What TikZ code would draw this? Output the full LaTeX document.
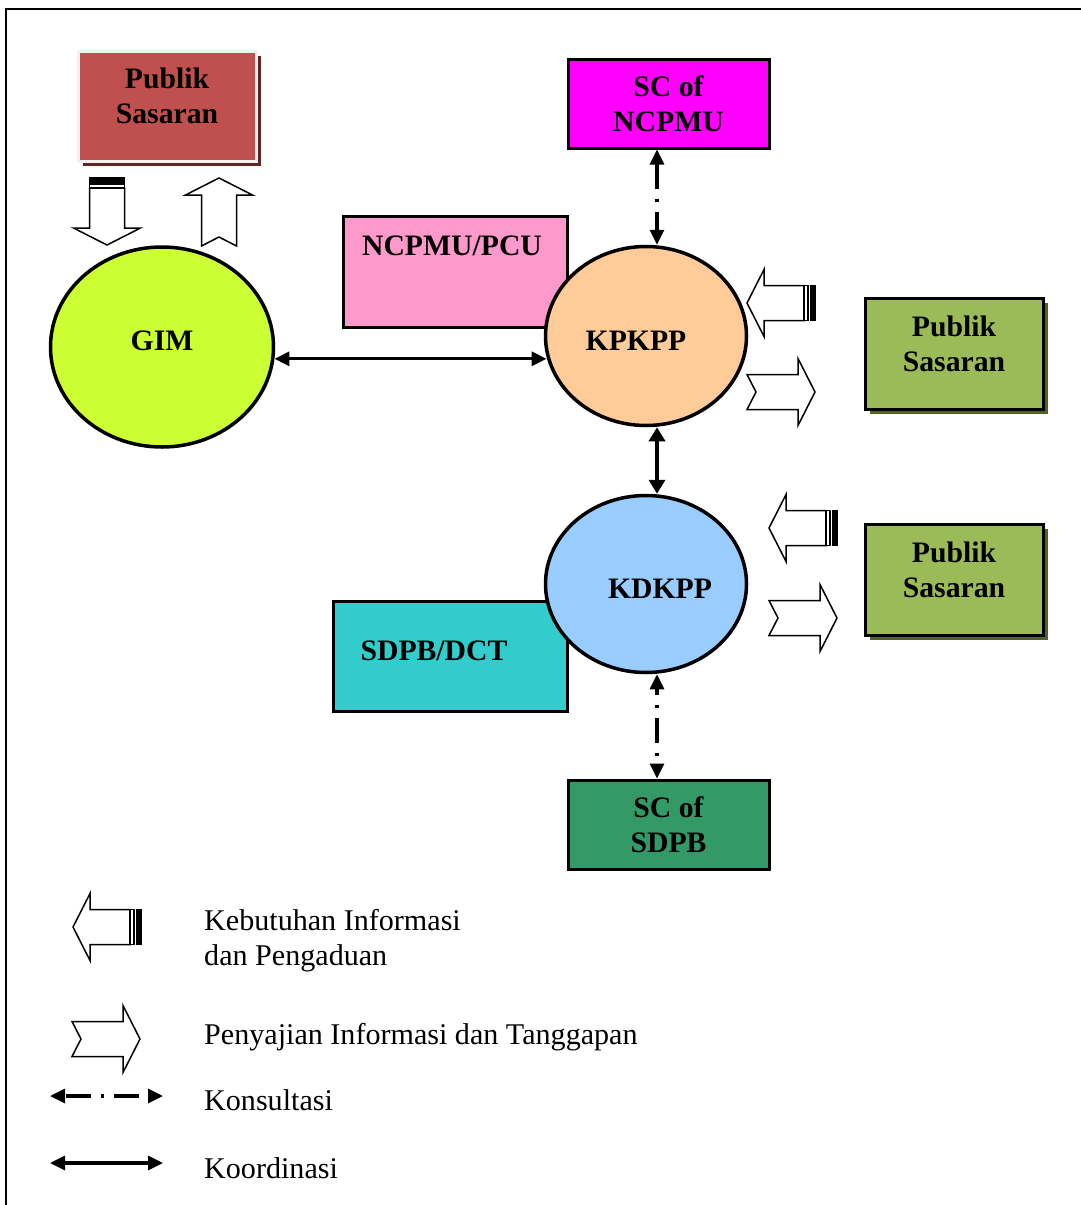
\documentclass[tikz,border=0pt]{standalone}
\usepackage{fontspec}
\setmainfont{Liberation Serif}
\usetikzlibrary{shapes.geometric,arrows.meta,shadows}
\definecolor{pubred}{HTML}{C0504D}
\definecolor{pubredsh}{HTML}{632523}
\definecolor{pubredbd}{HTML}{F2F2F2}
\definecolor{scmag}{HTML}{FF00FF}
\definecolor{ncpink}{HTML}{FF99CC}
\definecolor{gimgreen}{HTML}{CCFF33}
\definecolor{kporange}{HTML}{FFCC99}
\definecolor{kdblue}{HTML}{99CCFF}
\definecolor{sdteal}{HTML}{33CCCC}
\definecolor{scgreen}{HTML}{339966}
\definecolor{pubgreen}{HTML}{9BBB59}
\definecolor{pubgreensh}{HTML}{4F6228}
\begin{document}
\begin{tikzpicture}[x=1pt,y=-1pt,
  boxnode/.style={rectangle, draw=black, line width=3pt, inner sep=0pt, align=center,
    font=\fontsize{29.7}{35}\selectfont\bfseries},
  ellnode/.style={ellipse, draw=black, line width=3.5pt, inner sep=0pt},
  lbl/.style={inner sep=0pt, align=center, font=\fontsize{29.7}{35}\selectfont\bfseries},
  legtext/.style={inner sep=0pt, align=left, anchor=base west, font=\fontsize{30.1}{35}\selectfont},
  tipmark/.tip={Triangle[length=15pt,width=14pt]},
  coordline/.style={line width=3.2pt, tipmark-tipmark},
  thickline/.style={line width=4.5pt, {Triangle[length=14pt,width=16pt]}-{Triangle[length=14pt,width=16pt]}},
  consultline/.style={line width=3.2pt, tipmark-tipmark, dash pattern=on 25pt off 10pt on 3pt off 10pt},
  pubred/.style={boxnode, fill=pubred, draw=pubredbd, line width=3pt,
    drop shadow={shadow xshift=4pt, shadow yshift=-5pt, fill=pubredsh, opacity=1}},
  pubgreen/.style={boxnode, fill=pubgreen,
    drop shadow={shadow xshift=5pt, shadow yshift=-5pt, fill=pubgreensh, opacity=1}},
  stripearrow/.pic={
    \draw[fill=white, line width=1.5pt, line join=miter] (0,0) -- (17,-33.5) -- (17,-17.5) -- (57,-17.5)
      -- (57,17.5) -- (17,17.5) -- (17,33.5) -- cycle;
    \draw[fill=white, line width=1.2pt] (57,-17.5) rectangle (61,17.5);
    \draw[fill=black, line width=1pt] (63,-17.5) rectangle (68,17.5);
  },
  notcharrow/.pic={
    \draw[fill=white, line width=1.5pt, line join=miter] (0,0) -- (-17,33.5) -- (-17,17.5) -- (-68,17.5)
      -- (-59,0) -- (-68,-17.5) -- (-17,-17.5) -- (-17,-33.5) -- cycle;
  }
]
\useasboundingbox (0,0) rectangle (1081,1205);
% frame
\draw[line width=2pt] (6,1210) -- (6,9) -- (1085,9);

% top-left Publik Sasaran
\node[pubred, minimum width=178pt, minimum height=110pt] (pubtl) at (167.5,106) {};
\node[lbl] (pubtltxt) at (167,96) {Publik\\Sasaran};
\pic[rotate=90] at (107,245) {stripearrow};
\pic[rotate=90] at (219,178) {notcharrow};

% GIM
\node[ellnode, fill=gimgreen, minimum width=223pt, minimum height=200pt] (gim) at (162,347) {};
\node[lbl] (gimtxt) at (162,341) {GIM};

% NCPMU/PCU box
\node[boxnode, fill=ncpink, minimum width=224pt, minimum height=111pt] (ncpmu) at (455,271.5) {};
\node[lbl] (ncpmutxt) at (452,246) {NCPMU/PCU};

% SC of NCPMU
\node[boxnode, fill=scmag, minimum width=201pt, minimum height=89pt] (scn) at (668.5,103.5) {SC of\\NCPMU};

% KPKPP
\node[ellnode, fill=kporange, minimum width=201pt, minimum height=179pt] (kpkpp) at (646,336) {};
\node[lbl] (kpkpptxt) at (636,341) {KPKPP};

% SDPB/DCT box
\node[boxnode, fill=sdteal, minimum width=234pt, minimum height=110pt] (sdpb) at (450,656) {};
\node[lbl] (sdpbtxt) at (434,651) {SDPB/DCT};

% KDKPP
\node[ellnode, fill=kdblue, minimum width=201pt, minimum height=177pt] (kdkpp) at (646,584) {};
\node[lbl] (kdkpptxt) at (660,589) {KDKPP};

% SC of SDPB
\node[boxnode, fill=scgreen, minimum width=201pt, minimum height=89pt] (scs) at (668.5,824.5) {SC of\\SDPB};

% right Publik Sasaran boxes
\node[pubgreen, minimum width=178pt, minimum height=111pt] (pubr1) at (954,353.5) {};
\node[lbl] (pubr1txt) at (954,344) {Publik\\Sasaran};
\node[pubgreen, minimum width=178pt, minimum height=111pt] (pubr2) at (954,579.5) {};
\node[lbl] (pubr2txt) at (954,570) {Publik\\Sasaran};

% block arrows near KPKPP / KDKPP
\pic at (747,303) {stripearrow};
\pic at (815,392) {notcharrow};
\pic at (769,528) {stripearrow};
\pic at (837,618) {notcharrow};

% connectors
\draw[coordline] (gim.-6.5) -- (kpkpp.192.5 |- gim.-6.5);
\draw[thickline] ([xshift=11pt]kpkpp.south) -- ([xshift=11pt]kdkpp.north);
\draw[consultline] ([xshift=-11.5pt]scn.south) -- ([xshift=11pt]kpkpp.north);
\draw[consultline, dash phase=18pt] ([xshift=11pt]kdkpp.south) -- ([xshift=-11.5pt]scs.north);

% legend
\pic at (73,927) {stripearrow};
\pic at (140,1039) {notcharrow};
\coordinate (lk1) at (50,1096);
\coordinate (lk2) at (163,1096);
\coordinate (lc1) at (50,1163);
\coordinate (lc2) at (163,1163);
\draw[consultline, dash phase=-2pt] (lk1) -- (lk2);
\draw[coordline] (lc1) -- (lc2);
\node[legtext] (leg1) at (204,930) {Kebutuhan Informasi};
\node[legtext] (leg1b) at (204,965) {dan Pengaduan};
\node[legtext] (leg2) at (204,1044) {Penyajian Informasi dan Tanggapan};
\node[legtext] (leg3) at (204,1110) {Konsultasi};
\node[legtext] (leg4) at (204,1178) {Koordinasi};
\end{tikzpicture}
\end{document}
